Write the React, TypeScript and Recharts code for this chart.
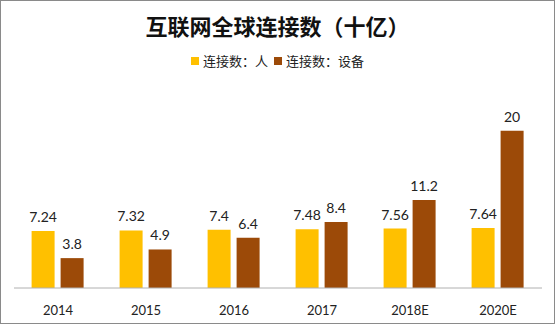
import { BarChart, Bar, XAxis, YAxis, LabelList, Legend } from "recharts"

const years = ["2014", "2015", "2016", "2017", "2018E", "2020E"]
const people = [7.24, 7.32, 7.4, 7.48, 7.56, 7.64]
const devices = [3.8, 4.9, 6.4, 8.4, 11.2, 20]

const PEOPLE_NAME = "连接数：人"
const DEVICE_NAME = "连接数：设备"

const data = years.map((year, i) => ({ year, people: people[i], devices: devices[i] }))

const cjk = '"Noto Sans CJK SC", "Noto Sans", sans-serif'
const num = 'Lato, "Open Sans", sans-serif'

function LegendContent({ payload }: any) {
  return (
    <div style={{ display: "flex", justifyContent: "center", gap: 6, fontFamily: cjk, fontSize: 13, color: "#222", height: 19 }}>
      {(payload || []).map((p: any) => (
        <span key={p.value} style={{ display: "flex", alignItems: "center" }}>
          <span style={{ width: 8, height: 8, background: p.color, marginRight: 4, display: "inline-block" }} />
          {p.value}
        </span>
      ))}
    </div>
  )
}

export default function App() {
  return (
    <div style={{ position: "fixed", left: 0, top: 0, width: 555, height: 324, boxSizing: "border-box", border: "1px solid #8a8a8a", background: "#fff" }}>
      <div style={{ position: "absolute", left: 0, right: 0, top: 8, textAlign: "center", fontFamily: cjk, fontWeight: 700, fontSize: 22, color: "#111" }}>
        互联网全球连接数（十亿）
      </div>
      <BarChart width={553} height={322} data={data} margin={{ top: 95, right: 12, bottom: 5, left: 13 }} barGap={6} barCategoryGap="20%">
        <XAxis dataKey="year" tickLine={false} axisLine={{ stroke: "#b0b0b0" }} tickMargin={12} tick={{ fill: "#222", fontSize: 13, fontFamily: num }} interval={0} />
        <YAxis hide domain={[0, 22]} allowDataOverflow />
        <Legend verticalAlign="top" content={<LegendContent />} wrapperStyle={{ top: 50, left: 0, width: 553 }} />
        <Bar dataKey="people" name={PEOPLE_NAME} fill="#FFC000" isAnimationActive={false}>
          <LabelList dataKey="people" position="top" offset={9} fill="#222" fontSize={14} fontFamily={num} />
        </Bar>
        <Bar dataKey="devices" name={DEVICE_NAME} fill="#9C4A08" isAnimationActive={false}>
          <LabelList dataKey="devices" position="top" offset={9} fill="#222" fontSize={14} fontFamily={num} />
        </Bar>
      </BarChart>
    </div>
  )
}
